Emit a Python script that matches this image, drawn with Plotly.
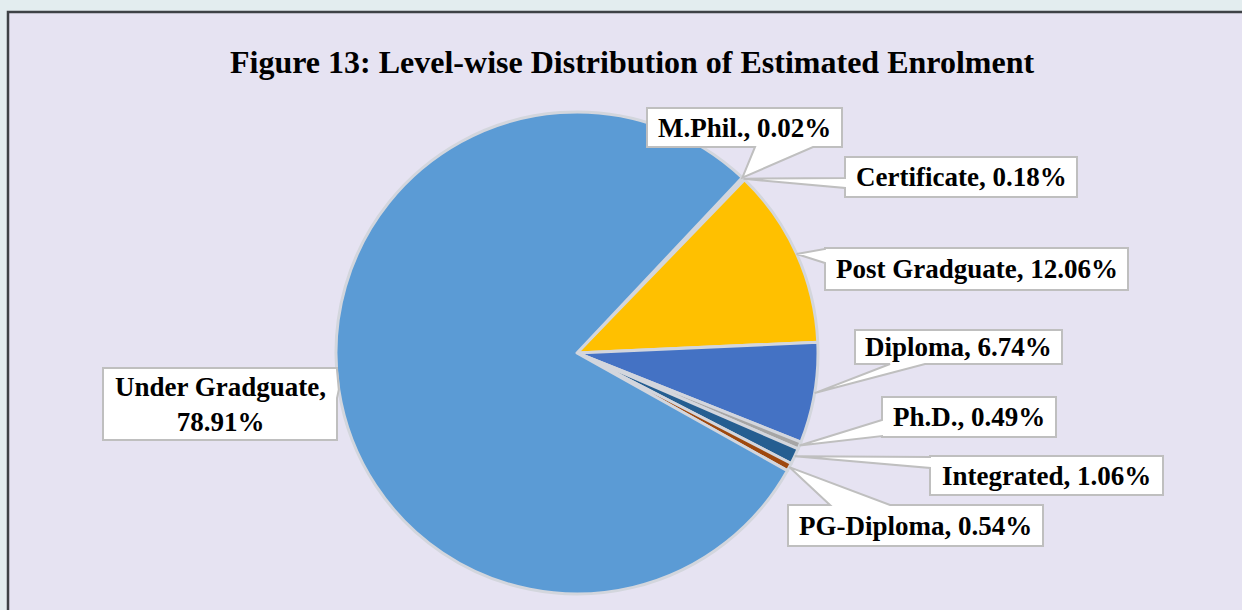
import math
import plotly.graph_objects as go

# ---- data ----
labels = ["M.Phil.", "Certificate", "Post Gradguate", "Diploma", "Ph.D.",
          "Integrated", "PG-Diploma", "Under Gradguate"]
values = [0.02, 0.18, 12.06, 6.74, 0.49, 1.06, 0.54, 78.91]
label_texts = ["M.Phil., 0.02%", "Certificate, 0.18%", "Post Gradguate, 12.06%",
               "Diploma, 6.74%", "Ph.D., 0.49%", "Integrated, 1.06%",
               "PG-Diploma, 0.54%", "Under Gradguate,<br>78.91%"]
title_text = "Figure 13: Level-wise Distribution of Estimated Enrolment"

# ---- styling / layout ----
colors = ["#ED7D31", "#70AD47", "#FFC000", "#4472C4", "#A5A5A5",
          "#255E91", "#9E480E", "#5B9BD5"]
W, H = 1242, 610
CX, CY, R = 577, 353, 241
START = 43.3  # degrees clockwise from 12 o'clock

# callout boxes: (x0, y0, x1, y1) in px, pointer side, base range along side
boxes = [
    ((647, 108, 842, 147), "bottom", (755, 813)),
    ((845, 157, 1077, 197), "left", (178, 188)),
    ((825, 248, 1128, 290), "left", (249, 263)),
    ((855, 330, 1062, 364), "bottom", (890, 925)),
    ((882, 397, 1056, 437), "left", (420, 436)),
    ((930, 456, 1163, 495), "left", (457, 468)),
    ((788, 505, 1043, 546), "top", (830, 890)),
    ((103, 368, 337, 440), "right", (370, 398)),
]


def px(x, y):
    return x / W, 1 - y / H


def path_from(points):
    parts = []
    for i, (x, y) in enumerate(points):
        X, Y = px(x, y)
        parts.append(("M" if i == 0 else "L") + f"{X:.5f},{Y:.5f}")
    return " ".join(parts) + " Z"


total = sum(values)
tips = []
acc = 0.0
for v in values:
    mid = START + (acc + v / 2) / total * 360.0
    acc += v
    a = math.radians(mid)
    tips.append((CX + R * math.sin(a), CY - R * math.cos(a)))

fig = go.Figure()
fig.add_trace(go.Pie(
    labels=labels, values=values, sort=False, direction="clockwise",
    rotation=START, textinfo="none", showlegend=False,
    marker=dict(colors=colors, line=dict(color="#D3D6DD", width=3)),
    domain=dict(x=[(CX - R) / W, (CX + R) / W], y=[1 - (CY + R) / H, 1 - (CY - R) / H]),
))

shapes = []
# frame
fx0, fy0 = px(8, 12)
fx1, fy1 = px(1260, 630)
shapes.append(dict(type="rect", xref="paper", yref="paper", x0=fx0, y0=fy0, x1=fx1, y1=fy1,
                   fillcolor="#E6E3F2", line=dict(color="#3E4246", width=2.5), layer="below"))

annotations = []
for (box, side, (a, b)), tip, txt in zip(boxes, tips, label_texts):
    x0, y0, x1, y1 = box
    tx, ty = tip
    if side == "bottom":
        pts = [(x0, y0), (x1, y0), (x1, y1), (b, y1), (tx, ty), (a, y1), (x0, y1)]
    elif side == "left":
        pts = [(x0, y0), (x1, y0), (x1, y1), (x0, y1), (x0, b), (tx, ty), (x0, a)]
    elif side == "right":
        pts = [(x0, y0), (x1, y0), (x1, a), (tx, ty), (x1, b), (x1, y1), (x0, y1)]
    else:  # top
        pts = [(x0, y0), (a, y0), (tx, ty), (b, y0), (x1, y0), (x1, y1), (x0, y1)]
    shapes.append(dict(type="path", xref="paper", yref="paper", path=path_from(pts),
                       fillcolor="white", line=dict(color="#BFBFBF", width=2), layer="above"))
    ax, ay = px((x0 + x1) / 2, (y0 + y1) / 2)
    annotations.append(dict(x=ax, y=ay, xref="paper", yref="paper", text=f"<b>{txt}</b>",
                            showarrow=False, xanchor="center", yanchor="middle",
                            font=dict(family="Liberation Serif, Times New Roman, serif",
                                      size=27, color="black")))

tx_, ty_ = px(632, 62)
annotations.append(dict(x=tx_, y=ty_, xref="paper", yref="paper", text=f"<b>{title_text}</b>",
                        showarrow=False, xanchor="center", yanchor="middle",
                        font=dict(family="Liberation Serif, Times New Roman, serif",
                                  size=32, color="black")))

fig.update_layout(
    width=W, height=H, margin=dict(l=0, r=0, t=0, b=0),
    paper_bgcolor="#E3EDEF", plot_bgcolor="#E3EDEF",
    shapes=shapes, annotations=annotations,
)

fig.write_html("out.html", config={"displayModeBar": False},
               post_script="document.body.style.margin='0';document.body.style.overflow='hidden';")
